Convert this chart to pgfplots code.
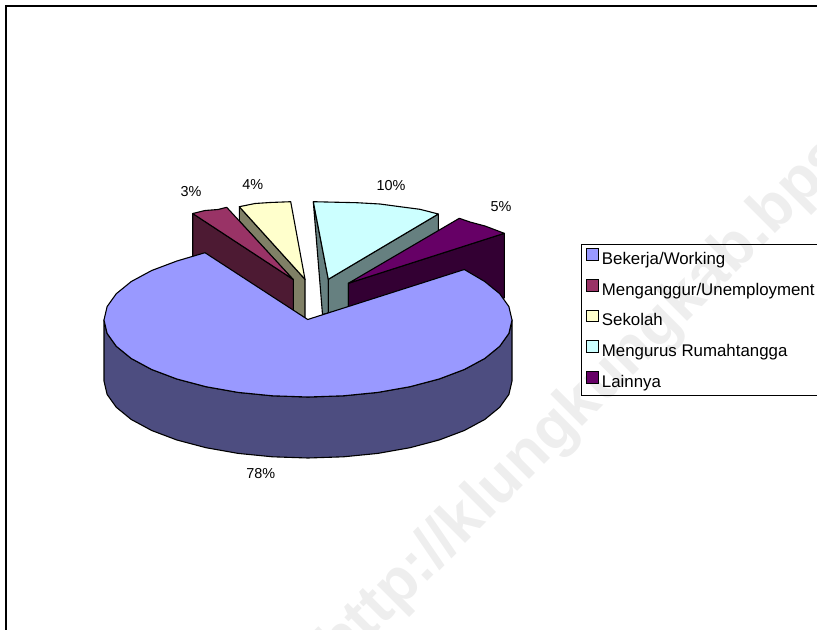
\documentclass[border=0pt]{standalone}
\usepackage{fontspec}
\setmainfont{Liberation Sans}
\usepackage{pgfplots}
\pgfplotsset{compat=1.18}
\definecolor{mainTop}{HTML}{9999FF}
\definecolor{mainSide}{HTML}{4D4D80}
\definecolor{unempTop}{HTML}{993366}
\definecolor{unempSide}{HTML}{4D1A33}
\definecolor{schoolTop}{HTML}{FFFFCC}
\definecolor{schoolSide}{HTML}{808066}
\definecolor{homeTop}{HTML}{CCFFFF}
\definecolor{homeSide}{HTML}{668080}
\definecolor{otherTop}{HTML}{660066}
\definecolor{otherSide}{HTML}{330033}
\definecolor{wmark}{HTML}{EEEEEE}
\pgfplotsset{
    slice/.style={draw=black, line width=1.1bp, line join=round, forget plot},
}
\tikzset{pct/.style={font=\fontsize{14.4bp}{16bp}\selectfont, inner sep=0pt}}
\begin{document}
\begin{tikzpicture}[x=1bp,y=1bp]
\begin{axis}[
    at={(0bp,0bp)}, anchor=south west,
    scale only axis, width=817bp, height=630bp,
    xmin=0, xmax=817, ymin=0, ymax=630, y dir=reverse,
    axis lines=none, clip=true,
    legend style={at={(axis cs:581,243.5)}, anchor=north west, fill=none, draw=black,
        line width=0.9bp, inner xsep=4.1bp, inner ysep=4.5bp, row sep=11.2bp,
        font=\fontsize{16.85bp}{18bp}\selectfont,
        nodes={inner xsep=3.5bp, inner ysep=0bp, text height=12.5bp, text depth=3.5bp}},
    legend cell align=left,
    legend image code/.code={\draw[#1, draw=black, line width=0.9bp] (0bp,-0.5bp) rectangle (12bp,11bp);},
]
% legend only; slices are drawn below in painter's order
\addlegendimage{fill=mainTop}   \addlegendentry{Bekerja/Working}
\addlegendimage{fill=unempTop}  \addlegendentry{Menganggur/Unemployment}
\addlegendimage{fill=schoolTop} \addlegendentry{Sekolah}
\addlegendimage{fill=homeTop}   \addlegendentry{Mengurus Rumahtangga}
\addlegendimage{fill=otherTop}  \addlegendentry{Lainnya}

% watermark
\node[anchor=base west, rotate=45, text=wmark, inner sep=0pt,
    font=\fontsize{62bp}{62bp}\selectfont\bfseries] at (axis cs:341,668) {http://klungkungkab.bps.go.id};

% frame
\addplot[black, line width=2bp, forget plot] coordinates {(6,640) (6,6) (830,6)};

% Sekolah 4%
\addplot[slice, fill=schoolSide] coordinates {(239.3,206.7) (305,279.3) (305,318) (293.3,311) (293.3,280) (239.3,221)} -- cycle;
\addplot[slice, fill=schoolTop] coordinates {(239.3,206.7) (255,203.5) (270,202.5) (290.7,201.7) (305,279.3)} -- cycle;
% Menganggur 3%
\addplot[slice, fill=unempSide] coordinates {(192.7,213.5) (293.3,279.5) (293.3,311) (192.7,256)} -- cycle;
\addplot[slice, fill=unempTop] coordinates {(192.7,213.5) (205,210.5) (218,209.5) (226.7,207.3) (293.3,279.5)} -- cycle;
% Mengurus Rumahtangga 10%
\addplot[slice, fill=homeSide] coordinates {(313.3,201.7) (328.3,279.3) (328.3,313) (322.5,314.5)} -- cycle;
\addplot[slice, fill=homeSide] coordinates {(328.3,279.3) (438.3,214) (438.3,232) (348.3,284) (348.3,308) (328.3,313)} -- cycle;
\addplot[slice, fill=homeTop] coordinates {(313.3,201.7) (356.7,202.7) (380,204) (400,206.7) (420,209.3) (438.3,214) (328.3,279.3)} -- cycle;
% Lainnya 5%
\addplot[slice, fill=otherSide] coordinates {(348.3,283.3) (504.3,233.3) (504.3,298) (348.3,312)} -- cycle;
\addplot[slice, fill=otherTop] coordinates {(348.3,283.3) (459.3,218.3) (470,222) (485,226) (504.3,233.3)} -- cycle;
% Bekerja 78%: outer wall, then top face
\addplot[slice, fill=mainSide] coordinates {
    (512,320) (508.9,333.4) (499.7,346.3) (484.7,358.5) (464.3,369.5) (439.1,379) (410,386.7) (377.8,392.4)
    (343.4,395.8) (308,397) (272.6,395.8) (238.2,392.4) (206,386.7) (176.9,379) (151.7,369.5) (131.3,358.5)
    (116.3,346.3) (107.1,333.4) (104,320) (104,381) (107.1,394.4) (116.3,407.3) (131.3,419.5) (151.7,430.5)
    (176.9,440) (206,447.7) (238.2,453.4) (272.6,456.8) (308,458) (343.4,456.8) (377.8,453.4) (410,447.7)
    (439.1,440) (464.3,430.5) (484.7,419.5) (499.7,407.3) (508.9,394.4) (512,381)} -- cycle;
\addplot[slice, fill=mainTop] coordinates {
    (307.7,319.5) (464.3,269.5) (484.7,281.5) (499.7,293.7) (508.9,306.6) (512,320) (508.9,333.4) (499.7,346.3)
    (484.7,358.5) (464.3,369.5) (439.1,379) (410,386.7) (377.8,392.4) (343.4,395.8) (308,397) (272.6,395.8)
    (238.2,392.4) (206,386.7) (176.9,379) (151.7,369.5) (131.3,358.5) (116.3,346.3) (107.1,333.4) (104,320)
    (107.1,306.6) (116.3,293.7) (131.3,281.5) (151.7,270.5) (176.9,261) (205,252.7)} -- cycle;

\node[pct] at (axis cs:191,191.7) {3\%};
\node[pct] at (axis cs:252.7,185) {4\%};
\node[pct] at (axis cs:391,185.6) {10\%};
\node[pct] at (axis cs:501,206.7) {5\%};
\node[pct] at (axis cs:260.7,473.3) {78\%};
\end{axis}
\pgfresetboundingbox
\path[use as bounding box] (0bp,0bp) rectangle (817bp,630bp);
\end{tikzpicture}
\end{document}
